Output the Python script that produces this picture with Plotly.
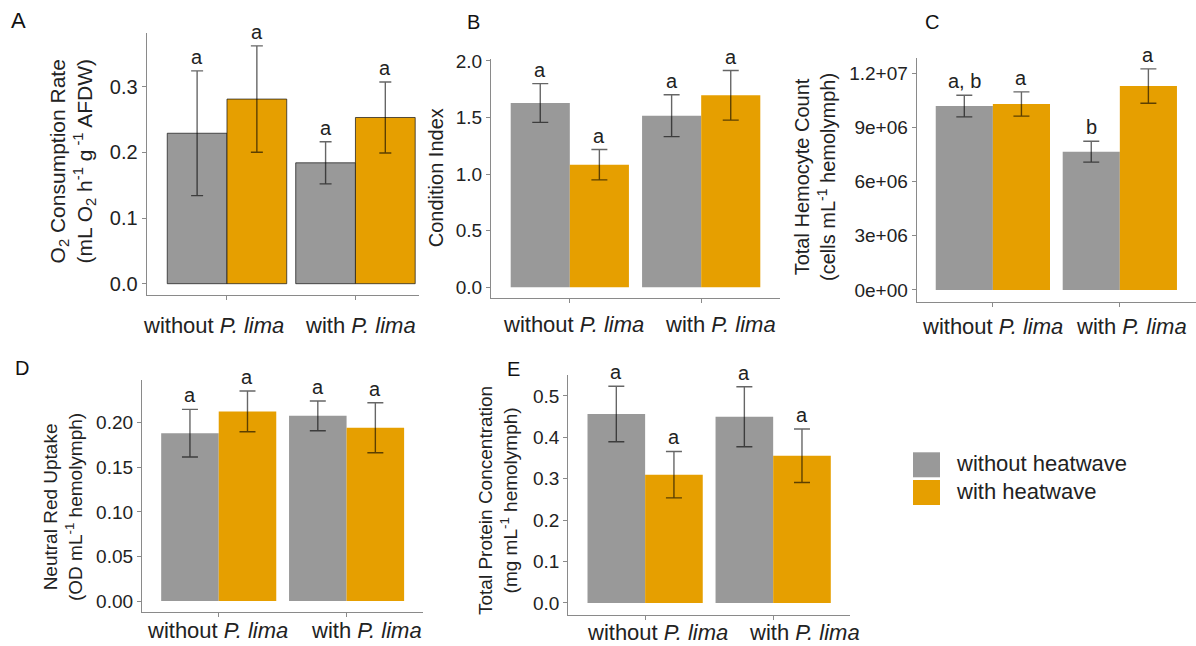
import plotly.graph_objects as go

# ---- data ----
groups = ["without <i>P. lima</i>", "with <i>P. lima</i>"]
treatments = ["without heatwave", "with heatwave"]

# A: O2 consumption rate
a_without_hw = [0.229, 0.184]
a_without_hw_se = [0.095, 0.032]
a_with_hw = [0.281, 0.253]
a_with_hw_se = [0.081, 0.054]
a_letters_without_hw = ["a", "a"]
a_letters_with_hw = ["a", "a"]

# B: condition index
b_without_hw = [1.628, 1.516]
b_without_hw_se = [0.171, 0.185]
b_with_hw = [1.083, 1.696]
b_with_hw_se = [0.134, 0.219]
b_letters_without_hw = ["a", "a"]
b_letters_with_hw = ["a", "a"]

# C: total hemocyte count
c_without_hw = [1.018e7, 7.655e6]
c_without_hw_se = [6.0e5, 5.75e5]
c_with_hw = [1.0295e7, 1.129e7]
c_with_hw_se = [6.7e5, 9.5e5]
c_letters_without_hw = ["a, b", "b"]
c_letters_with_hw = ["a", "a"]

# D: neutral red uptake
d_without_hw = [0.1883, 0.2077]
d_without_hw_se = [0.0267, 0.0167]
d_with_hw = [0.2127, 0.1943]
d_with_hw_se = [0.0228, 0.0280]
d_letters_without_hw = ["a", "a"]
d_letters_with_hw = ["a", "a"]

# E: total protein concentration
e_without_hw = [0.4565, 0.450]
e_without_hw_se = [0.067, 0.0725]
e_with_hw = [0.310, 0.3557]
e_with_hw_se = [0.056, 0.0645]
e_letters_without_hw = ["a", "a"]
e_letters_with_hw = ["a", "a"]

c_tickvals = [0, 3e6, 6e6, 9e6, 1.2e7]
c_ticktext = ["0e+00", "3e+06", "6e+06", "9e+06", "1.2+07"]

# ---- styling ----
W, H = 1196, 646
GRAY = "#999999"
ORANGE = "#E69F00"
AXIS = "#8a8a8a"
TXT = "#222222"
FONT = "Liberation Sans, Arial, sans-serif"


def fx(p):
    return p / W


def fy(p):
    return 1 - p / H


fig = go.Figure()
annotations = []
layout = {}

# per-panel geometry: domains (px), axis ranges, bar width, fonts,
# title/letter placement and the group-label placement (y centre, x shifts)
panels = [
    dict(name="A", g=a_without_hw, gse=a_without_hw_se, o=a_with_hw, ose=a_with_hw_se,
         gl=a_letters_without_hw, ol=a_letters_with_hw,
         xd=(146.7, 419.3), yd=(33, 295), xr=(0.375, 2.497), yr=(-0.0172, 0.3816),
         bw=0.465, outline=True, ytf=20, cap=6,
         ytv=[0.0, 0.1, 0.2, 0.3], ytt=["0.0", "0.1", "0.2", "0.3"],
         title="O<sub>2</sub> Consumption Rate<br>(mL O<sub>2</sub> h<sup>-1</sup> g<sup> -1</sup> AFDW)",
         tc=(72.5, 162), ts=21, lab=(18.5, 20.5), ls=22,
         gy=325.5, gdx=(-13, 5)),
    dict(name="B", g=b_without_hw, gse=b_without_hw_se, o=b_with_hw, ose=b_with_hw_se,
         gl=b_letters_without_hw, ol=b_letters_with_hw,
         xd=(491, 780), yd=(59, 298.3), xr=(0.4, 2.6), yr=(-0.0972, 2.017),
         bw=0.45, outline=False, ytf=19, cap=8,
         ytv=[0.0, 0.5, 1.0, 1.5, 2.0], ytt=["0.0", "0.5", "1.0", "1.5", "2.0"],
         title="Condition Index",
         tc=(435.7, 177.5), ts=20, lab=(473, 22), ls=20,
         gy=324, gdx=(4, 19)),
    dict(name="C", g=c_without_hw, gse=c_without_hw_se, o=c_with_hw, ose=c_with_hw_se,
         gl=c_letters_without_hw, ol=c_letters_with_hw,
         xd=(916.7, 1196), yd=(58.3, 301.7), xr=(0.4, 2.6), yr=(-6.48e5, 1.2825e7),
         bw=0.45, outline=False, ytf=19, cap=8,
         ytv=c_tickvals, ytt=c_ticktext,
         title="Total Hemocyte Count<br>(cells mL<sup>-1</sup> hemolymph)",
         tc=(815, 177), ts=20, lab=(931.5, 22), ls=20,
         gy=326.5, gdx=(0, 12)),
    dict(name="D", g=d_without_hw, gse=d_without_hw_se, o=d_with_hw, ose=d_with_hw_se,
         gl=d_letters_without_hw, ol=d_letters_with_hw,
         xd=(142, 423.3), yd=(380, 611.7), xr=(0.4, 2.6), yr=(-0.012, 0.2479),
         bw=0.45, outline=False, ytf=19, cap=8,
         ytv=[0.0, 0.05, 0.10, 0.15, 0.20], ytt=["0.00", "0.05", "0.10", "0.15", "0.20"],
         title="Neutral Red Uptake<br>(OD mL<sup>-1</sup> hemolymph)",
         tc=(63, 507), ts=19, lab=(22, 368), ls=20,
         gy=630.5, gdx=(-1.5, 20)),
    dict(name="E", g=e_without_hw, gse=e_without_hw_se, o=e_with_hw, ose=e_with_hw_se,
         gl=e_letters_without_hw, ol=e_letters_with_hw,
         xd=(568.3, 850), yd=(375, 615), xr=(0.4, 2.6), yr=(-0.029, 0.5507),
         bw=0.45, outline=False, ytf=19, cap=8,
         ytv=[0.0, 0.1, 0.2, 0.3, 0.4, 0.5], ytt=["0.0", "0.1", "0.2", "0.3", "0.4", "0.5"],
         title="Total Protein Concentration<br>(mg mL<sup>-1</sup> hemolymph)",
         tc=(498.5, 500.5), ts=19, lab=(513.5, 369), ls=20,
         gy=632, gdx=(12, 31)),
]

xpos = [1, 2]

for i, p in enumerate(panels, start=1):
    sfx = "" if i == 1 else str(i)
    xa, ya = "x" + sfx, "y" + sfx
    line = dict(color="rgba(30,30,30,0.75)", width=1) if p["outline"] else dict(width=0)
    err_style = dict(type="data", color="rgba(0,0,0,0.6)", thickness=1.4, width=p["cap"])
    bw = p["bw"]

    fig.add_trace(go.Bar(
        x=xpos, y=p["g"], width=bw, offset=-bw, marker=dict(color=GRAY, line=line),
        error_y=dict(array=p["gse"], **err_style), xaxis=xa, yaxis=ya,
        name=treatments[0], showlegend=False))
    fig.add_trace(go.Bar(
        x=xpos, y=p["o"], width=bw, offset=0, marker=dict(color=ORANGE, line=line),
        error_y=dict(array=p["ose"], **err_style), xaxis=xa, yaxis=ya,
        name=treatments[1], showlegend=False))

    for k in range(2):
        # significance letters above each error bar
        annotations.append(dict(
            x=xpos[k] - bw / 2, y=p["g"][k] + p["gse"][k], xref=xa, yref=ya,
            text=p["gl"][k], showarrow=False, yanchor="bottom", yshift=1,
            font=dict(size=20, color=TXT, family=FONT)))
        annotations.append(dict(
            x=xpos[k] + bw / 2, y=p["o"][k] + p["ose"][k], xref=xa, yref=ya,
            text=p["ol"][k], showarrow=False, yanchor="bottom", yshift=1,
            font=dict(size=20, color=TXT, family=FONT)))
        # group label under the x axis
        annotations.append(dict(
            x=xpos[k], y=fy(p["gy"]), xref=xa, yref="paper", xshift=p["gdx"][k],
            text=groups[k], showarrow=False, xanchor="center", yanchor="middle",
            font=dict(size=22, color=TXT, family=FONT)))

    # y-axis title
    annotations.append(dict(
        x=fx(p["tc"][0]), y=fy(p["tc"][1]), xref="paper", yref="paper",
        text=p["title"], textangle=-90, showarrow=False,
        xanchor="center", yanchor="middle",
        font=dict(size=p["ts"], color=TXT, family=FONT)))
    # panel letter
    annotations.append(dict(
        x=fx(p["lab"][0]), y=fy(p["lab"][1]), xref="paper", yref="paper",
        text=p["name"], showarrow=False, xanchor="center", yanchor="middle",
        font=dict(size=p["ls"], color="#111111", family=FONT)))

    layout["xaxis" + sfx] = dict(
        domain=[fx(p["xd"][0]), fx(p["xd"][1])], anchor=ya, range=list(p["xr"]),
        tickvals=xpos, showticklabels=False, showline=True, linecolor=AXIS, linewidth=1.2,
        ticks="outside", ticklen=4, tickcolor=AXIS, tickwidth=1.2,
        automargin=False, showgrid=False, zeroline=False, fixedrange=True)
    layout["yaxis" + sfx] = dict(
        domain=[fy(p["yd"][1]), fy(p["yd"][0])], anchor=xa, range=list(p["yr"]),
        tickvals=p["ytv"], ticktext=p["ytt"], showline=True, linecolor=AXIS, linewidth=1.2,
        ticks="outside", ticklen=4, tickcolor=AXIS, tickwidth=1.2,
        automargin=False, showgrid=False, zeroline=False, fixedrange=True,
        tickfont=dict(size=p["ytf"], color=TXT, family=FONT))

# legend drawn as swatches plus labels
shapes = []
legend_items = [(treatments[0], GRAY, 452.3, 477.3, 463.3),
                (treatments[1], ORANGE, 480, 505, 491.7)]
for label, color, top, bottom, mid in legend_items:
    shapes.append(dict(type="rect", xref="paper", yref="paper",
                       x0=fx(913), x1=fx(940), y0=fy(bottom), y1=fy(top),
                       fillcolor=color, line=dict(width=0)))
    annotations.append(dict(x=fx(954), y=fy(mid), xref="paper", yref="paper",
                            text=label, showarrow=False, xanchor="left", yanchor="middle",
                            font=dict(size=22, color=TXT, family=FONT)))

fig.update_layout(
    width=W, height=H, margin=dict(l=0, r=0, t=0, b=0),
    paper_bgcolor="white", plot_bgcolor="white",
    barmode="overlay", showlegend=False,
    annotations=annotations, shapes=shapes,
    font=dict(family=FONT, color=TXT),
    **layout)

fig.write_html("out.html")
